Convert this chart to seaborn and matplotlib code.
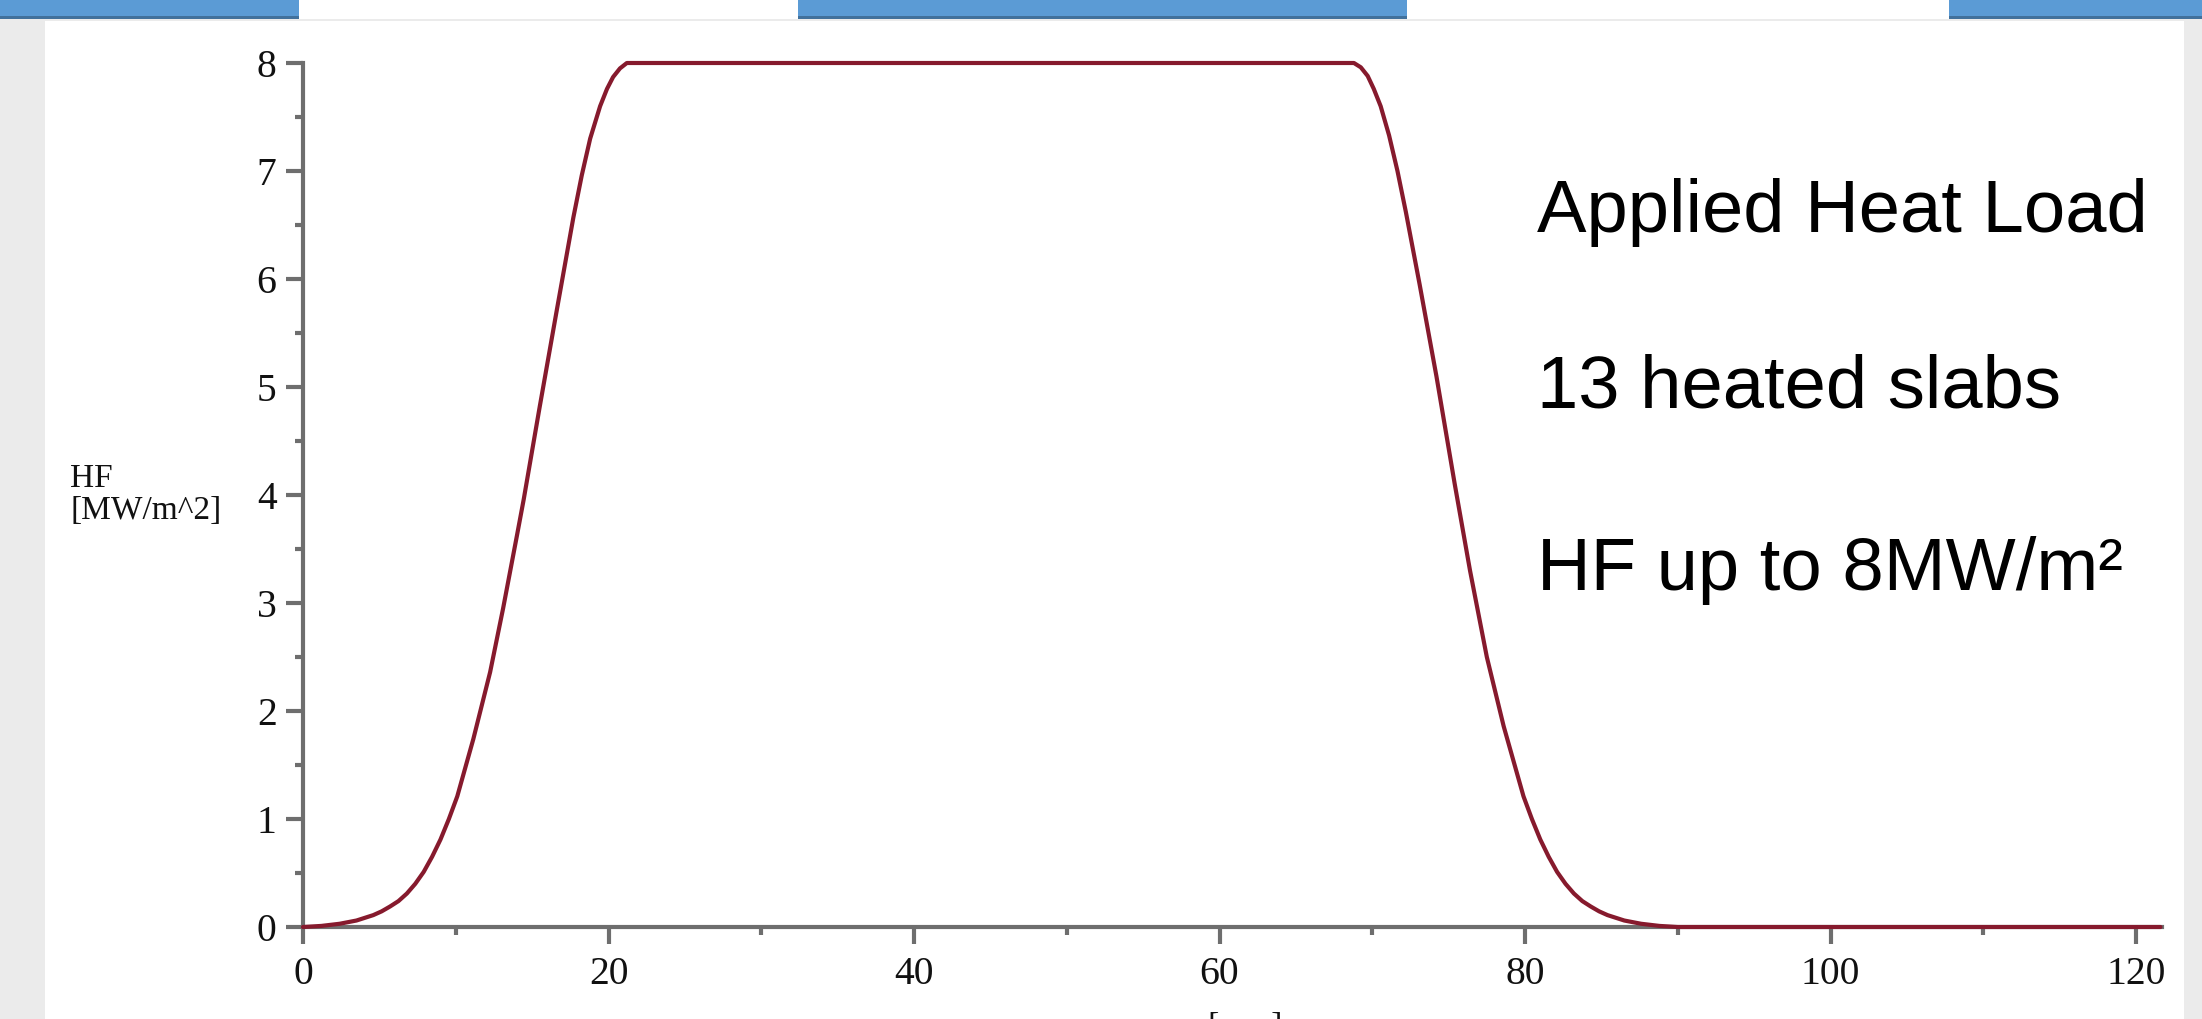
import matplotlib
matplotlib.use("Agg")
import matplotlib.pyplot as plt
from matplotlib.patches import Rectangle
import pandas as pd
import seaborn as sns

# heat flux profile (x in mm, HF in MW/m^2)
rise_x = [0.0, 1.2, 2.4, 3.5, 4.6, 5.15, 5.7, 6.25, 6.8, 7.35, 7.9, 8.45, 9.0, 9.55,
          10.1, 11.15, 12.25, 13.1, 14.0, 14.45, 15.5, 16.6, 17.7, 18.25, 18.8,
          19.45, 19.9, 20.3, 20.75, 21.2]
rise_hf = [0.0, 0.01, 0.03, 0.06, 0.11, 0.145, 0.19, 0.24, 0.31, 0.40, 0.51, 0.65, 0.81, 1.0,
           1.21, 1.74, 2.36, 2.95, 3.62, 3.96, 4.82, 5.7, 6.57, 6.96, 7.3,
           7.6, 7.76, 7.87, 7.95, 8.0]
fall_x = [68.8, 69.25, 69.7, 70.1, 70.55, 71.1, 71.65, 72.2, 73.1, 74.2, 75.4, 76.4,
          77.5, 78.6, 79.9, 80.45, 81.0, 81.55, 82.1, 82.65, 83.2, 83.75, 84.3, 84.85,
          85.4, 86.5, 87.6, 88.8, 90.0, 121.6]
fall_hf = [8.0, 7.96, 7.88, 7.76, 7.6, 7.33, 7.0, 6.62, 5.95, 5.1, 4.1, 3.3,
           2.5, 1.86, 1.21, 1.0, 0.81, 0.65, 0.51, 0.40, 0.31, 0.24, 0.19, 0.145,
           0.11, 0.06, 0.03, 0.01, 0.0, 0.0]

x_ticks = [0, 20, 40, 60, 80, 100, 120]
y_ticks = [0, 1, 2, 3, 4, 5, 6, 7, 8]
notes = ["Applied Heat Load", "13 heated slabs", "HF up to 8MW/m\u00b2"]

df = pd.DataFrame({"x_mm": rise_x + fall_x, "hf": rise_hf + fall_hf})

W, H = 2202, 1019
AXIS = "#6e6e6e"
CURVE = "#861a2d"

sns.set_style("white")
plt.rcParams["font.family"] = ["Liberation Serif", "DejaVu Serif"]

fig = plt.figure(figsize=(W / 100, H / 100), dpi=100, facecolor="#ebebeb")

# slide background: white panel, top strip and blue tabs (kept behind the axes)
fig.patches.append(Rectangle((45 / W, 0), (2184 - 45) / W, 1 - 21 / H,
                             transform=fig.transFigure, facecolor="white", edgecolor="none", zorder=-2))
fig.patches.append(Rectangle((0, 1 - 19 / H), 1, 19 / H,
                             transform=fig.transFigure, facecolor="white", edgecolor="none", zorder=-2))
for x0, x1 in [(0, 299), (798, 1407), (1949, 2202)]:
    fig.patches.append(Rectangle((x0 / W, 1 - 19 / H), (x1 - x0) / W, 19 / H,
                                 transform=fig.transFigure, facecolor="#5b9bd5", edgecolor="none", zorder=-1))
    fig.patches.append(Rectangle((x0 / W, 1 - 19 / H), (x1 - x0) / W, 3 / H,
                                 transform=fig.transFigure, facecolor="#41719c", edgecolor="none", zorder=-1))

ax = fig.add_axes([303 / W, 1 - 927 / H, (2162 - 303) / W, (927 - 63) / H])
ax.set_facecolor("none")

sns.lineplot(data=df, x="x_mm", y="hf", color=CURVE, linewidth=3.0, ax=ax,
             clip_on=False, zorder=5, sort=False)

ax.set_xlim(0, 121.7)
ax.set_ylim(0, 8)
ax.set_xticks(x_ticks)
ax.set_xticks([10, 30, 50, 70, 90, 110], minor=True)
ax.set_yticks(y_ticks)
ax.set_yticks([v + 0.5 for v in y_ticks[:-1]], minor=True)
ax.set_xticklabels([str(v) for v in x_ticks])
ax.set_yticklabels([str(v) for v in y_ticks])

for side in ["top", "right"]:
    ax.spines[side].set_visible(False)
for side in ["left", "bottom"]:
    ax.spines[side].set_color(AXIS)
    ax.spines[side].set_linewidth(3.0)

ax.tick_params(which="both", bottom=True, left=True, top=False, right=False)
ax.tick_params(which="major", direction="out", length=12, width=3.0, color=AXIS,
               labelsize=28.5, labelcolor="#111111")
ax.tick_params(axis="x", which="major", pad=9)
ax.tick_params(axis="y", which="major", pad=7)
ax.tick_params(which="minor", direction="out", length=6, width=3.0, color=AXIS)

ax.set_ylabel("HF\n[MW/m^2]", rotation=0, fontsize=24, ha="left", va="center",
              multialignment="left", linespacing=1.05, color="#111111")
ax.yaxis.set_label_coords(-0.1253, 0.5)
ax.set_xlabel("x [mm]", fontsize=24, color="#111111")
ax.xaxis.set_label_coords(0.5, -0.098)

for text, base in zip(notes, [232, 408, 590]):
    fig.text(1537 / W, 1 - base / H, text, fontsize=53.5, family="Liberation Sans",
             color="black", ha="left", va="baseline")

fig.savefig("out.png", dpi=100, facecolor=fig.get_facecolor())
